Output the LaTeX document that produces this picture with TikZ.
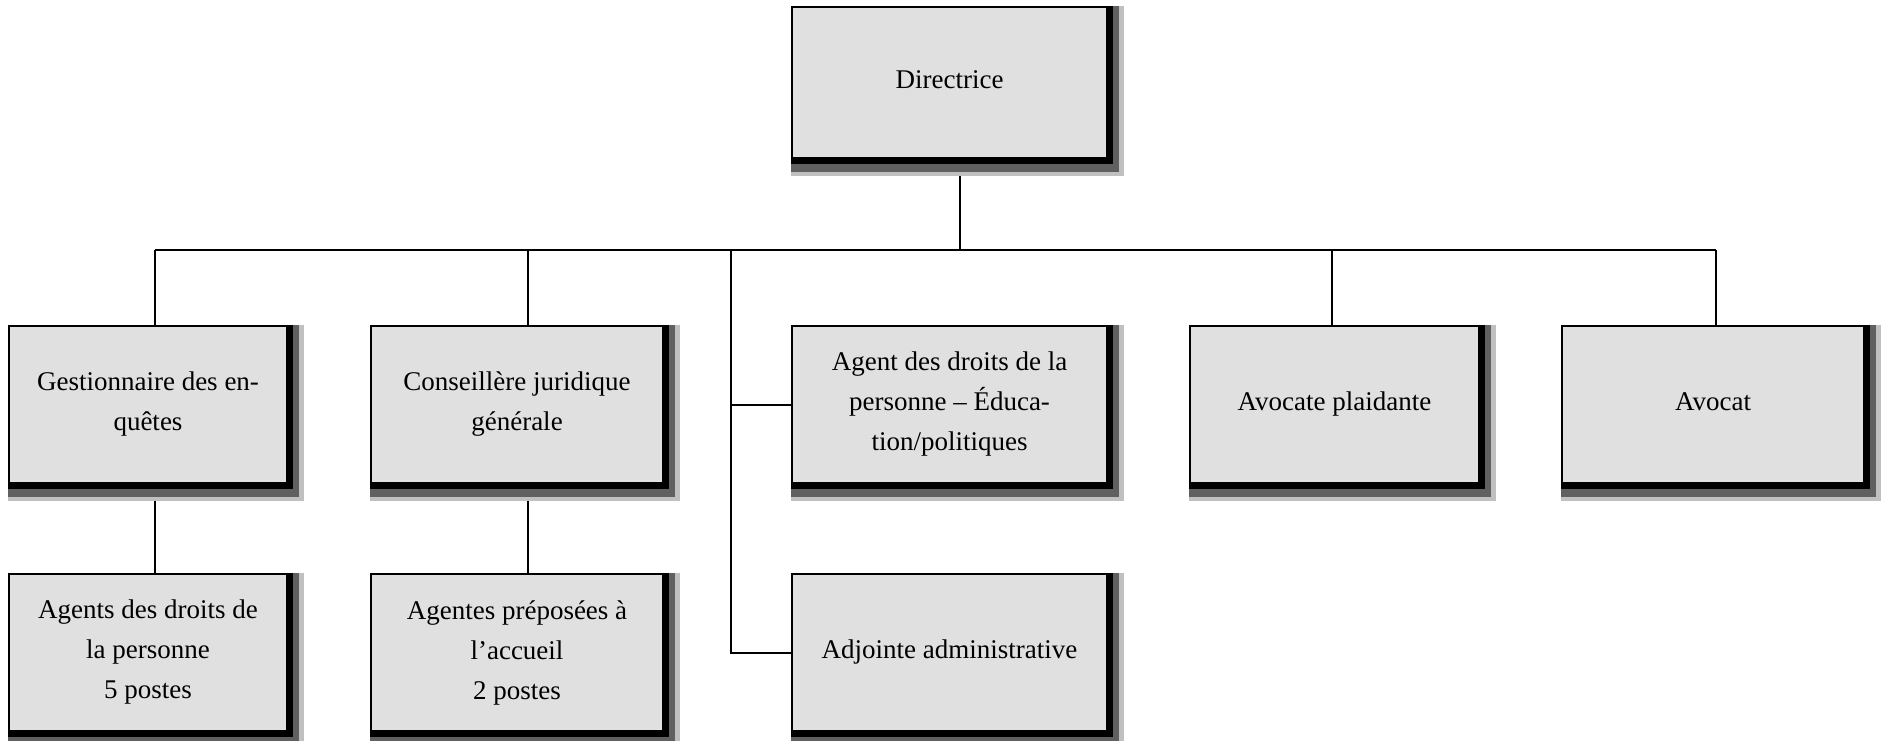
\documentclass[tikz,border=0pt]{standalone}
\usepackage{fontspec}
\setmainfont{Liberation Serif}
\usetikzlibrary{backgrounds}
\definecolor{cFill}{HTML}{E0E0E0}
\definecolor{cShadowDark}{HTML}{606060}
\definecolor{cShadowLight}{HTML}{C0C0C0}

\begin{document}
\begin{tikzpicture}[
  x=1pt, y=-1pt,
  obox/.style={draw=black, fill=cFill, line width=1.5pt, align=center,
    minimum width=#1, minimum height=157pt, inner sep=0pt,
    font=\fontsize{27}{40}\selectfont, execute at begin node=\vphantom{p}},
  obox/.default=281pt,
  link/.style={line width=2pt}
]
  \useasboundingbox (0,0) rectangle (1883,741);

  % top
  \node[obox=315pt, minimum height=151pt] (dir) at (949.5,82.5) {Directrice};

  % first row
  \node[obox=278pt] (ges) at (148,404.5) {Gestionnaire des en-\\quêtes};
  \node[obox=292pt] (con) at (517,404.5) {Conseillère juridique\\générale};
  \node[obox=315pt] (agt) at (949.5,404.5) {Agent des droits de la\\personne -- Éduca-\\tion/politiques};
  \node[obox=289pt] (avp) at (1334.5,404.5) {Avocate plaidante};
  \node[obox=302pt] (avt) at (1713,404.5) {Avocat};

  % second row
  \node[obox=278pt] (ard) at (148,652.5) {Agents des droits de\\la personne\\5 postes};
  \node[obox=292pt] (apa) at (517,652.5) {Agentes préposées à\\l’accueil\\2 postes};
  \node[obox=315pt] (adj) at (949.5,652.5) {Adjointe administrative};

  \coordinate (bus) at (0,250);
  \coordinate (br) at (731,250);

  \begin{scope}[on background layer]
    % connectors
    \draw[link] ([xshift=10.5]dir.south) -- ([xshift=10.5]dir.south |- bus);
    \draw[link] ([xshift=7]ges.north |- bus) -- ([xshift=3]avt.north |- bus);
    \foreach \n/\d in {ges/7,con/11,avp/-2.5,avt/3}
      \draw[link] ([xshift=\d]\n.north |- bus) -- ([xshift=\d]\n.north);
    \draw[link] (br) |- (agt.west);
    \draw[link] (br) |- (adj.west);
    \draw[link] ([xshift=7]ges.south) -- ([xshift=7]ard.north);
    \draw[link] ([xshift=11]con.south) -- ([xshift=11]apa.north);

    % shadows
    \foreach \n in {dir,ges,con,agt,avp,avt,ard,apa,adj}{
      \fill[cShadowLight] (\n.north west) rectangle ([shift={(16,17)}]\n.south east);
      \fill[cShadowDark] (\n.north west) rectangle ([shift={(11,13)}]\n.south east);
      \fill[black] (\n.north west) rectangle ([shift={(5,5)}]\n.south east);
    }
  \end{scope}
\end{tikzpicture}
\end{document}
